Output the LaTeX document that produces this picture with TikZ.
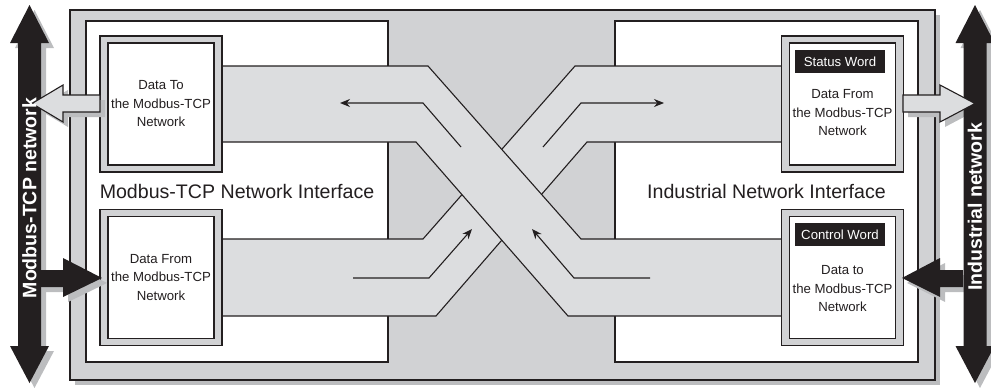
\documentclass[tikz,border=0pt]{standalone}
\usepackage{fontspec}
\setmainfont{Liberation Sans}
\usepackage{tikz}
\usetikzlibrary{calc}
\usetikzlibrary{arrows.meta}
\usetikzlibrary{positioning}
\definecolor{framegray}{HTML}{D1D2D4}
\definecolor{bandgray}{HTML}{DCDDDF}
\definecolor{shadegray}{HTML}{BCBDBF}
\definecolor{inkblack}{HTML}{231F20}
\newcommand\netpath[1]{(#1-11.5,43) -- (#1-19.5,43) -- (#1,5) -- (#1+19.5,43) -- (#1+11.5,43)
  -- (#1+11.5,346) -- (#1+19.5,346) -- (#1,383) -- (#1-19.5,346) -- (#1-11.5,346) -- cycle}
\tikzset{
  panel/.style={draw=inkblack, line width=1.1pt, fill=white},
  band/.style={draw=inkblack, line width=1.1pt, fill=bandgray},
  boxframe/.style={draw=inkblack, line width=1.1pt, fill=framegray,
      minimum width=122pt, minimum height=136pt, inner sep=0pt},
  boxin/.style={draw=inkblack, line width=1.1pt, fill=white, text=inkblack,
      minimum width=106pt, minimum height=122pt, inner sep=0pt,
      align=center, font=\fontsize{13.2}{18.5}\selectfont},
  boxtxt/.style={align=center, inner sep=0pt, text=inkblack,
      font=\fontsize{13.2}{18.5}\selectfont},
  wordlbl/.style={fill=inkblack, text=white, minimum width=90pt, minimum height=23pt,
      inner sep=0pt, font=\fontsize{13.2}{15}\selectfont},
  iflabel/.style={inner sep=0pt, text=inkblack, font=\fontsize{19.6}{22}\selectfont},
  netlabel/.style={rotate=90, inner sep=0pt, text=white,
      font=\fontsize{19.5}{22}\selectfont\bfseries},
  flow/.style={draw=inkblack, line width=1.1pt, -{Stealth[length=10pt,width=8pt]}},
  shade/.style={fill=shadegray},
  fatarrow/.style={fill=inkblack},
  lightarrow/.style={draw=inkblack, line width=1.1pt, fill=bandgray},
}

\begin{document}
\begin{tikzpicture}[x=1pt, y=-1pt]
    \useasboundingbox (0,0) rectangle (991,388);

    \fill[shade] (75,15) rectangle (940,385);
    \draw[line width=2.5pt, draw=inkblack, fill=framegray] (70,10) rectangle (935,380);
    \draw[panel] (86,21) rectangle (388,362);
    \draw[panel] (615,21) rectangle (918,362);

    \draw[band] (222,239) -- (423,239) -- (575,66) -- (782,66)
      -- (782,142) -- (587,142) -- (436,316) -- (222,316) -- cycle;
    \draw[band] (222,66) -- (428,66) -- (581,239) -- (782,239)
      -- (782,316) -- (568,316) -- (416,142) -- (222,142) -- cycle;

    \node[boxframe] (tlout) at (161,104) {};
    \node[boxin] (tl) at (161,104) {Data To\\the Modbus-TCP\\Network};
    \node[boxframe] (blout) at (161,277.5) {};
    \node[boxin] (bl) at (161,277.5) {Data From\\the Modbus-TCP\\Network};
    \node[boxframe] (trout) at (842.5,104) {};
    \node[boxin] (tr) at (842.5,104) {};
    \node[boxframe] (brout) at (842.5,277.5) {};
    \node[boxin] (br) at (842.5,277.5) {};
    \node[wordlbl] (stat) at (840,61.5) {Status Word};
    \node[boxtxt] (trtxt) at (842.5,113) {Data From\\the Modbus-TCP\\Network};
    \node[wordlbl] (ctrl) at (840,234.5) {Control Word};
    \node[boxtxt] (brtxt) at (842.5,289) {Data to\\the Modbus-TCP\\Network};

    \node[iflabel] (mbif) at (237,191) {Modbus-TCP Network Interface};
    \node[iflabel] (indif) at (766.5,191) {Industrial Network Interface};

    \coordinate (tlfrom) at (461,147);
    \coordinate (tlbend) at (423,103);
    \coordinate (tlto) at (340,103);
    \coordinate (trfrom) at (543,147);
    \coordinate (trbend) at (581,103);
    \coordinate (trto) at (664,103);
    \coordinate (blfrom) at (353,278);
    \coordinate (blbend) at (429,278);
    \coordinate (blto) at (472,229);
    \coordinate (brfrom) at (650,278);
    \coordinate (brbend) at (574,278);
    \coordinate (brto) at (532,229);
    \draw[flow] (tlfrom) -- (tlbend) -- (tlto);
    \draw[flow] (trfrom) -- (trbend) -- (trto);
    \draw[flow] (blfrom) -- (blbend) -- (blto);
    \draw[flow] (brfrom) -- (brbend) -- (brto);

    % shadows of the network arrows
    \begin{scope}[shift={(5,5)}]
      \fill[shade] \netpath{29.5};
      \fill[shade] \netpath{975};
      \fill[shade] (100,95) -- (63,95) -- (63,85) -- (32,103.5) -- (63,122) -- (63,112) -- (100,112) -- cycle;
      \fill[shade] (41,270) -- (63,270) -- (63,258) -- (102,278) -- (63,297) -- (63,287) -- (41,287) -- cycle;
      \fill[shade] (903,95) -- (940,95) -- (940,85) -- (975,103.5) -- (940,122) -- (940,112) -- (903,112) -- cycle;
      \fill[shade] (963,270) -- (940,270) -- (940,258) -- (902,278) -- (940,297) -- (940,287) -- (963,287) -- cycle;
    \end{scope}

    \fill[fatarrow] \netpath{29.5};
    \fill[fatarrow] \netpath{975};
    \draw[lightarrow] (100,95) -- (63,95) -- (63,85) -- (32,103.5) -- (63,122) -- (63,112) -- (100,112) -- cycle;
    \fill[fatarrow] (41,270) -- (63,270) -- (63,258) -- (102,278) -- (63,297) -- (63,287) -- (41,287) -- cycle;
    \draw[lightarrow] (903,95) -- (940,95) -- (940,85) -- (975,103.5) -- (940,122) -- (940,112) -- (903,112) -- cycle;
    \fill[fatarrow] (963,270) -- (940,270) -- (940,258) -- (902,278) -- (940,297) -- (940,287) -- (963,287) -- cycle;

    \node[netlabel] (mbnet) at (29.5,198) {Modbus-TCP network};
    \node[netlabel] (indnet) at (975,207) {Industrial network};
\end{tikzpicture}
\end{document}
